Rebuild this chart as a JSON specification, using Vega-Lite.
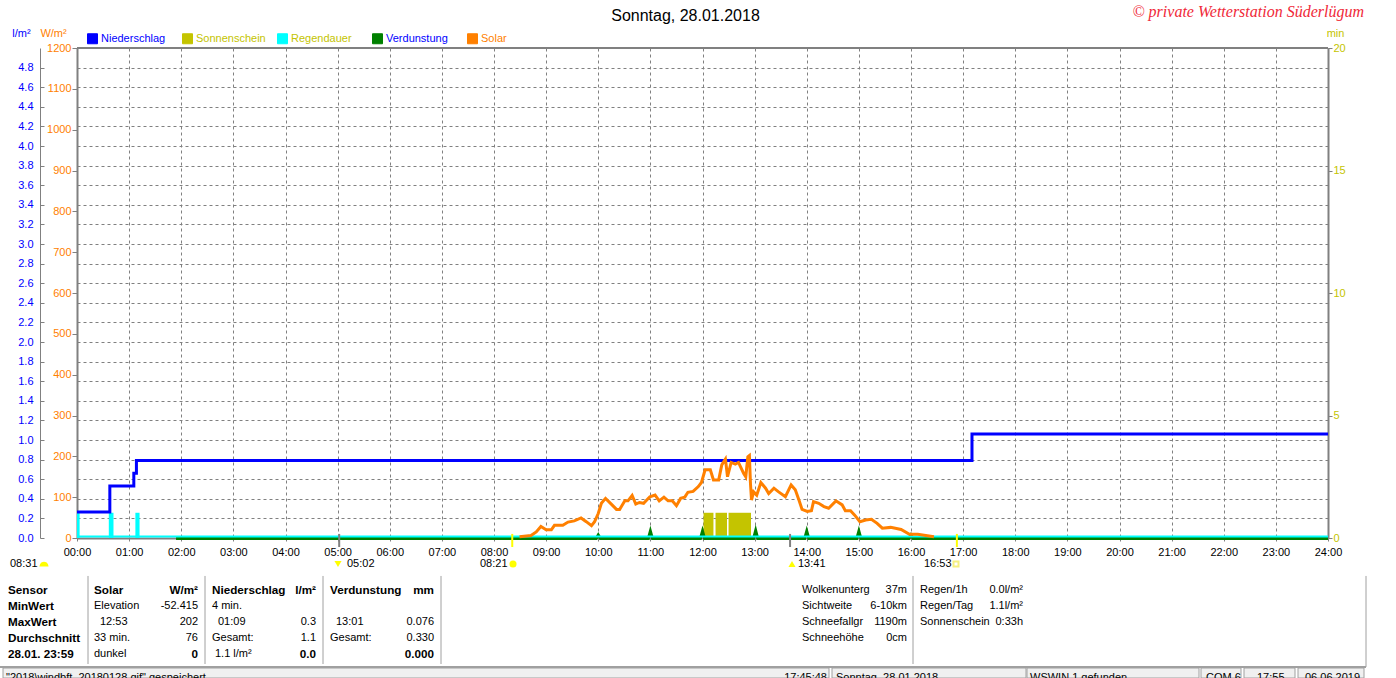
{
"$schema":"https://vega.github.io/schema/vega-lite/v6.json",
"width":1251,"height":490,
"autosize":{"type":"none"},
"padding":{"left":77,"top":48,"right":68,"bottom":140},
"background":"white",
"title":{"text":"Sonntag, 28.01.2018","anchor":"middle","dx":-17,"dy":27,"offset":7,"fontSize":16,"fontWeight":"normal","font":"Liberation Sans","color":"#000000"},
"config":{"view":{"stroke":null},"font":"Liberation Sans","axis":{"labelFont":"Liberation Sans","titleFont":"Liberation Sans","labelFontSize":11,"titleFontSize":11,"titleFontWeight":"normal","labelOverlap":false,"labelFlush":false}},
"datasets":{
"niederschlag":[{"stunde":0,"wert":0.265,"reihe":"Niederschlag"},{"stunde":0.63,"wert":0.53,"reihe":"Niederschlag"},{"stunde":1.09,"wert":0.66,"reihe":"Niederschlag"},{"stunde":1.14,"wert":0.79,"reihe":"Niederschlag"},{"stunde":17.17,"wert":1.06,"reihe":"Niederschlag"},{"stunde":24,"wert":1.06,"reihe":"Niederschlag"}],
"sonne":[{"von":12.02,"bis":12.21,"wert":1.03,"reihe":"Sonnenschein"},{"von":12.25,"bis":12.47,"wert":1.03,"reihe":"Sonnenschein"},{"von":12.5,"bis":12.93,"wert":1.03,"reihe":"Sonnenschein"}],
"regen":[{"von":0,"bis":0.05,"wert":1.03,"reihe":"Regendauer"},{"von":0.61,"bis":0.7,"wert":1.03,"reihe":"Regendauer"},{"von":1.12,"bis":1.2,"wert":1.03,"reihe":"Regendauer"}],
"regenbasis":[{"stunde":0,"wert":0.06,"reihe":"Regendauer"},{"stunde":24,"wert":0.06,"reihe":"Regendauer"}],
"verdunstung":[{"stunde":1.9,"wert":-0.006,"reihe":"Verdunstung"},{"stunde":9.96,"wert":-0.006,"reihe":"Verdunstung"},{"stunde":10,"wert":0.03,"reihe":"Verdunstung"},{"stunde":10.04,"wert":-0.006,"reihe":"Verdunstung"},{"stunde":10.96,"wert":-0.006,"reihe":"Verdunstung"},{"stunde":11,"wert":0.07,"reihe":"Verdunstung"},{"stunde":11.04,"wert":-0.006,"reihe":"Verdunstung"},{"stunde":11.96,"wert":-0.006,"reihe":"Verdunstung"},{"stunde":12,"wert":0.07,"reihe":"Verdunstung"},{"stunde":12.04,"wert":-0.006,"reihe":"Verdunstung"},{"stunde":12.98,"wert":-0.006,"reihe":"Verdunstung"},{"stunde":13.02,"wert":0.076,"reihe":"Verdunstung"},{"stunde":13.06,"wert":-0.006,"reihe":"Verdunstung"},{"stunde":13.96,"wert":-0.006,"reihe":"Verdunstung"},{"stunde":14,"wert":0.07,"reihe":"Verdunstung"},{"stunde":14.04,"wert":-0.006,"reihe":"Verdunstung"},{"stunde":14.96,"wert":-0.006,"reihe":"Verdunstung"},{"stunde":15,"wert":0.07,"reihe":"Verdunstung"},{"stunde":15.04,"wert":-0.006,"reihe":"Verdunstung"},{"stunde":15.96,"wert":-0.006,"reihe":"Verdunstung"},{"stunde":16,"wert":0.03,"reihe":"Verdunstung"},{"stunde":16.04,"wert":-0.006,"reihe":"Verdunstung"},{"stunde":24,"wert":-0.006,"reihe":"Verdunstung"}],
"solar":[{"stunde":8.49,"wert":3,"reihe":"Solar"},{"stunde":8.71,"wert":6,"reihe":"Solar"},{"stunde":8.81,"wert":15,"reihe":"Solar"},{"stunde":8.9,"wert":28,"reihe":"Solar"},{"stunde":9,"wert":20,"reihe":"Solar"},{"stunde":9.1,"wert":20,"reihe":"Solar"},{"stunde":9.16,"wert":31,"reihe":"Solar"},{"stunde":9.32,"wert":31,"reihe":"Solar"},{"stunde":9.42,"wert":39,"reihe":"Solar"},{"stunde":9.54,"wert":42,"reihe":"Solar"},{"stunde":9.67,"wert":49,"reihe":"Solar"},{"stunde":9.77,"wert":40,"reihe":"Solar"},{"stunde":9.87,"wert":30,"reihe":"Solar"},{"stunde":9.93,"wert":40,"reihe":"Solar"},{"stunde":10,"wert":60,"reihe":"Solar"},{"stunde":10.06,"wert":85,"reihe":"Solar"},{"stunde":10.14,"wert":97,"reihe":"Solar"},{"stunde":10.25,"wert":83,"reihe":"Solar"},{"stunde":10.35,"wert":70,"reihe":"Solar"},{"stunde":10.41,"wert":70,"reihe":"Solar"},{"stunde":10.51,"wert":91,"reihe":"Solar"},{"stunde":10.57,"wert":91,"reihe":"Solar"},{"stunde":10.65,"wert":104,"reihe":"Solar"},{"stunde":10.72,"wert":83,"reihe":"Solar"},{"stunde":10.79,"wert":87,"reihe":"Solar"},{"stunde":10.87,"wert":85,"reihe":"Solar"},{"stunde":10.99,"wert":101,"reihe":"Solar"},{"stunde":11.09,"wert":105,"reihe":"Solar"},{"stunde":11.17,"wert":91,"reihe":"Solar"},{"stunde":11.26,"wert":100,"reihe":"Solar"},{"stunde":11.34,"wert":91,"reihe":"Solar"},{"stunde":11.42,"wert":91,"reihe":"Solar"},{"stunde":11.5,"wert":79,"reihe":"Solar"},{"stunde":11.58,"wert":97,"reihe":"Solar"},{"stunde":11.66,"wert":100,"reihe":"Solar"},{"stunde":11.72,"wert":112,"reihe":"Solar"},{"stunde":11.82,"wert":114,"reihe":"Solar"},{"stunde":11.92,"wert":126,"reihe":"Solar"},{"stunde":11.98,"wert":136,"reihe":"Solar"},{"stunde":12.05,"wert":167,"reihe":"Solar"},{"stunde":12.15,"wert":167,"reihe":"Solar"},{"stunde":12.21,"wert":142,"reihe":"Solar"},{"stunde":12.31,"wert":142,"reihe":"Solar"},{"stunde":12.37,"wert":179,"reihe":"Solar"},{"stunde":12.44,"wert":193,"reihe":"Solar"},{"stunde":12.48,"wert":150,"reihe":"Solar"},{"stunde":12.55,"wert":185,"reihe":"Solar"},{"stunde":12.63,"wert":181,"reihe":"Solar"},{"stunde":12.69,"wert":185,"reihe":"Solar"},{"stunde":12.79,"wert":158,"reihe":"Solar"},{"stunde":12.83,"wert":150,"reihe":"Solar"},{"stunde":12.87,"wert":199,"reihe":"Solar"},{"stunde":12.9,"wert":202,"reihe":"Solar"},{"stunde":12.92,"wert":134,"reihe":"Solar"},{"stunde":12.94,"wert":93,"reihe":"Solar"},{"stunde":12.98,"wert":113,"reihe":"Solar"},{"stunde":13.04,"wert":105,"reihe":"Solar"},{"stunde":13.12,"wert":136,"reihe":"Solar"},{"stunde":13.21,"wert":122,"reihe":"Solar"},{"stunde":13.27,"wert":109,"reihe":"Solar"},{"stunde":13.37,"wert":122,"reihe":"Solar"},{"stunde":13.46,"wert":113,"reihe":"Solar"},{"stunde":13.59,"wert":101,"reihe":"Solar"},{"stunde":13.7,"wert":130,"reihe":"Solar"},{"stunde":13.78,"wert":118,"reihe":"Solar"},{"stunde":13.85,"wert":93,"reihe":"Solar"},{"stunde":13.91,"wert":70,"reihe":"Solar"},{"stunde":14.01,"wert":65,"reihe":"Solar"},{"stunde":14.09,"wert":67,"reihe":"Solar"},{"stunde":14.13,"wert":89,"reihe":"Solar"},{"stunde":14.23,"wert":85,"reihe":"Solar"},{"stunde":14.33,"wert":77,"reihe":"Solar"},{"stunde":14.42,"wert":73,"reihe":"Solar"},{"stunde":14.56,"wert":91,"reihe":"Solar"},{"stunde":14.68,"wert":81,"reihe":"Solar"},{"stunde":14.74,"wert":67,"reihe":"Solar"},{"stunde":14.84,"wert":67,"reihe":"Solar"},{"stunde":14.92,"wert":56,"reihe":"Solar"},{"stunde":15.02,"wert":40,"reihe":"Solar"},{"stunde":15.13,"wert":44,"reihe":"Solar"},{"stunde":15.24,"wert":46,"reihe":"Solar"},{"stunde":15.35,"wert":36,"reihe":"Solar"},{"stunde":15.45,"wert":24,"reihe":"Solar"},{"stunde":15.61,"wert":26,"reihe":"Solar"},{"stunde":15.81,"wert":21,"reihe":"Solar"},{"stunde":15.97,"wert":9,"reihe":"Solar"},{"stunde":16.13,"wert":9,"reihe":"Solar"},{"stunde":16.44,"wert":3,"reihe":"Solar"}],
"striche_mond":[{"stunde":5.03,"von":-22,"bis":10},{"stunde":13.68,"von":-22,"bis":10}],
"striche_sonne":[{"stunde":8.35,"von":-22,"bis":10},{"stunde":16.88,"von":-22,"bis":10}],
"text_links":[
{"spalte":8,"zeile":2,"text":"Elevation"},{"spalte":9,"zeile":3,"text":"12:53"},{"spalte":8,"zeile":4,"text":"33 min."},{"spalte":8,"zeile":5,"text":"dunkel"},
{"spalte":12,"zeile":2,"text":"4 min."},{"spalte":14,"zeile":3,"text":"01:09"},{"spalte":12,"zeile":4,"text":"Gesamt:"},{"spalte":13,"zeile":5,"text":"1.1 l/m²"},
{"spalte":18,"zeile":3,"text":"13:01"},{"spalte":17,"zeile":4,"text":"Gesamt:"},
{"spalte":27,"zeile":1,"text":"Wolkenunterg"},{"spalte":27,"zeile":2,"text":"Sichtweite"},{"spalte":27,"zeile":3,"text":"Schneefallgr"},{"spalte":27,"zeile":4,"text":"Schneehöhe"},
{"spalte":34,"zeile":1,"text":"Regen/1h"},{"spalte":34,"zeile":2,"text":"Regen/Tag"},{"spalte":34,"zeile":3,"text":"Sonnenschein"},
{"spalte":5,"zeile":0,"text":"08:31"},{"spalte":20,"zeile":0,"text":"05:02"},{"spalte":23,"zeile":0,"text":"08:21"},{"spalte":26,"zeile":0,"text":"13:41"},{"spalte":35,"zeile":0,"text":"16:53"},
{"spalte":3,"zeile":6.5,"text":"\"2018\\windbft_20180128.gif\"  gespeichert"},{"spalte":31,"zeile":6.5,"text":"Sonntag, 28.01.2018"},{"spalte":40,"zeile":6.5,"text":"WSWIN 1 gefunden"},{"spalte":43,"zeile":6.5,"text":"COM 6"},{"spalte":46,"zeile":6.5,"text":"17:55"},{"spalte":49,"zeile":6.5,"text":"06.06.2019"}],
"text_links_fett":[
{"spalte":4,"zeile":1,"text":"Sensor"},{"spalte":4,"zeile":2,"text":"MinWert"},{"spalte":4,"zeile":3,"text":"MaxWert"},{"spalte":4,"zeile":4,"text":"Durchschnitt"},{"spalte":4,"zeile":5,"text":"28.01. 23:59"},
{"spalte":8,"zeile":1,"text":"Solar"},{"spalte":12,"zeile":1,"text":"Niederschlag"},{"spalte":17,"zeile":1,"text":"Verdunstung"}],
"text_rechts":[
{"spalte":10,"zeile":2,"text":"-52.415"},{"spalte":10,"zeile":3,"text":"202"},{"spalte":10,"zeile":4,"text":"76"},
{"spalte":15,"zeile":3,"text":"0.3"},{"spalte":15,"zeile":4,"text":"1.1"},
{"spalte":21,"zeile":3,"text":"0.076"},{"spalte":21,"zeile":4,"text":"0.330"},
{"spalte":32,"zeile":1,"text":"37m"},{"spalte":32,"zeile":2,"text":"6-10km"},{"spalte":32,"zeile":3,"text":"1190m"},{"spalte":32,"zeile":4,"text":"0cm"},
{"spalte":37,"zeile":1,"text":"0.0l/m²"},{"spalte":37,"zeile":2,"text":"1.1l/m²"},{"spalte":37,"zeile":3,"text":"0:33h"},
{"spalte":28,"zeile":6.5,"text":"17:45:48"}],
"text_rechts_fett":[
{"spalte":10,"zeile":1,"text":"W/m²"},{"spalte":10,"zeile":5,"text":"0"},
{"spalte":15,"zeile":1,"text":"l/m²"},{"spalte":15,"zeile":5,"text":"0.0"},
{"spalte":21,"zeile":1,"text":"mm"},{"spalte":21,"zeile":5,"text":"0.000"}],
"trenner":[{"spalte":7,"von":0.46,"bis":5.625},{"spalte":11,"von":0.46,"bis":5.625},{"spalte":16,"von":0.46,"bis":5.625},{"spalte":22,"von":0.46,"bis":5.625},{"spalte":33,"von":0.46,"bis":5.625},{"spalte":51,"von":0.46,"bis":5.81}],
"statuslinie":[{"von":1,"bis":51,"zeile":5.81}],
"statusfelder":[{"von":2,"bis":29,"oben":5.875,"unten":6.5},{"von":30,"bis":38,"oben":5.875,"unten":6.5},{"von":39,"bis":41,"oben":5.875,"unten":6.5},{"von":42,"bis":44,"oben":5.875,"unten":6.5},{"von":45,"bis":47,"oben":5.875,"unten":6.5},{"von":48,"bis":50,"oben":5.875,"unten":6.5}],
"symbole":[{"spalte":6,"zeile":0,"art":"halb"},{"spalte":19,"zeile":0,"art":"ab"},{"spalte":24,"zeile":0,"art":"sonne"},{"spalte":25,"zeile":0,"art":"auf"}],
"hohl":[{"spalte":36,"zeile":0}],
"vermerk":[{"spalte":50,"zeile":-1,"text":"© private Wetterstation Süderlügum"}]
},
"layer":[
{"layer":[
{"data":{"name":"sonne"},"mark":{"type":"rect"},
 "encoding":{
  "x":{"field":"von","type":"quantitative","title":null,"scale":{"domain":[0,24],"nice":false,"zero":false},
   "axis":{"values":[0,1,2,3,4,5,6,7,8,9,10,11,12,13,14,15,16,17,18,19,20,21,22,23,24],"labelExpr":"(datum.value<10?'0':'')+datum.value+':00'","labelColor":"#000000","labelPadding":5,"tickSize":3,"tickColor":"#808080","domainColor":"#808080","domainWidth":2,"grid":true,"gridColor":"#808080","gridDash":[3,3],"gridOpacity":1,"gridWidth":1}},
  "x2":{"field":"bis"},
  "y":{"field":"wert","type":"quantitative","title":"min","scale":{"domain":[0,20],"nice":false},
   "axis":{"orient":"right","values":[0,5,10,15,20],"grid":false,"labelColor":"#c4c400","labelPadding":1,"tickSize":4,"tickColor":"#808080","domainColor":"#808080","domainWidth":2,"titleColor":"#c4c400","titleAngle":0,"titleAlign":"center","titleBaseline":"middle","titleX":7,"titleY":-15}},
  "y2":{"datum":0},
  "color":{"field":"reihe","type":"nominal","scale":{"domain":["Niederschlag","Sonnenschein","Regendauer","Verdunstung","Solar"],"range":["#0000ff","#c4c400","#00ffff","#008000","#ff8000"]},
   "legend":{"title":null,"orient":"none","legendX":10,"legendY":-15,"direction":"horizontal","columns":5,"gridAlign":"all","columnPadding":9,"padding":0,"symbolType":"square","symbolSize":100,"symbolStrokeWidth":1,"symbolStrokeColor":"#000000","labelFont":"Liberation Sans","labelFontSize":11,"labelOffset":3,"labelLimit":200,
    "labelColor":{"expr":"datum.label=='Niederschlag'||datum.label=='Verdunstung'?'#0000ff':datum.label=='Solar'?'#ff8000':'#c4c400'"}}}
 }},
{"data":{"name":"verdunstung"},"mark":{"type":"line","strokeWidth":3,"interpolate":"linear","clip":false},
 "encoding":{
  "x":{"field":"stunde","type":"quantitative"},
  "y":{"field":"wert","type":"quantitative","title":"l/m²","scale":{"domain":[0,5],"nice":false,"zero":false},
   "axis":{"orient":"left","offset":37,"values":[0,0.2,0.4,0.6,0.8,1,1.2,1.4,1.6,1.8,2,2.2,2.4,2.6,2.8,3,3.2,3.4,3.6,3.8,4,4.2,4.4,4.6,4.8],"format":".1f","grid":true,"gridColor":"#808080","gridDash":[3,3],"gridOpacity":1,"gridWidth":1,"labelColor":"#0000ff","labelPadding":11,"tickSize":-4,"tickColor":"#808080","domainColor":"#808080","domainWidth":1,"titleColor":"#0000ff","titleAngle":0,"titleAlign":"center","titleBaseline":"middle","titleX":-19,"titleY":-15}},
  "color":{"field":"reihe","type":"nominal","legend":null}
 }},
{"data":{"name":"regen"},"mark":{"type":"rect"},
 "encoding":{
  "x":{"field":"von","type":"quantitative"},"x2":{"field":"bis"},
  "y":{"field":"wert","type":"quantitative","scale":{"domain":[0,20],"nice":false},"axis":null},"y2":{"datum":0},
  "color":{"field":"reihe","type":"nominal","legend":null}
 }},
{"data":{"name":"regenbasis"},"mark":{"type":"line","strokeWidth":2},
 "encoding":{
  "x":{"field":"stunde","type":"quantitative"},
  "y":{"field":"wert","type":"quantitative","scale":{"domain":[0,20],"nice":false},"axis":null},
  "color":{"field":"reihe","type":"nominal","legend":null}
 }},
{"data":{"name":"niederschlag"},"mark":{"type":"line","strokeWidth":3,"interpolate":"step-after"},
 "encoding":{
  "x":{"field":"stunde","type":"quantitative"},
  "y":{"field":"wert","type":"quantitative","scale":{"domain":[0,5],"nice":false},"axis":null},
  "color":{"field":"reihe","type":"nominal","legend":null}
 }},
{"data":{"name":"solar"},"mark":{"type":"line","strokeWidth":3,"interpolate":"linear"},
 "encoding":{
  "x":{"field":"stunde","type":"quantitative"},
  "y":{"field":"wert","type":"quantitative","title":"W/m²","scale":{"domain":[0,1200],"nice":false},
   "axis":{"orient":"left","values":[0,100,200,300,400,500,600,700,800,900,1000,1100,1200],"format":"d","grid":false,"labelColor":"#ff8000","labelPadding":1,"tickSize":5,"tickColor":"#808080","domainColor":"#808080","domainWidth":2,"titleColor":"#ff8000","titleAngle":0,"titleAlign":"center","titleBaseline":"middle","titleX":-24,"titleY":-15}},
  "color":{"field":"reihe","type":"nominal","legend":null}
 }},
{"data":{"name":"striche_mond"},"mark":{"type":"rule","color":"#808080","strokeWidth":2},
 "encoding":{
  "x":{"field":"stunde","type":"quantitative"},
  "y":{"field":"von","type":"quantitative","scale":{"domain":[0,1200],"nice":false},"axis":null},"y2":{"field":"bis"}
 }},
{"data":{"name":"striche_sonne"},"mark":{"type":"rule","color":"#ffff00","strokeWidth":2},
 "encoding":{
  "x":{"field":"stunde","type":"quantitative"},
  "y":{"field":"von","type":"quantitative","scale":{"domain":[0,1200],"nice":false},"axis":null},"y2":{"field":"bis"}
 }},
{"data":{"values":[{"oben":1200}]},"mark":{"type":"rule","color":"#808080","strokeWidth":2},
 "encoding":{
  "y":{"field":"oben","type":"quantitative","scale":{"domain":[0,1200],"nice":false},"axis":null}
 }}
],"resolve":{"scale":{"y":"independent"},"axis":{"y":"independent"}}},
{"encoding":{
  "x":{"field":"spalte","type":"quantitative","axis":null,"scale":{"nice":false,"zero":false,"domain":[1,2,3,4,5,6,7,8,9,10,11,12,13,14,15,16,17,18,19,20,21,22,23,24,25,26,27,28,29,30,31,32,33,34,35,36,37,38,39,40,41,42,43,44,45,46,47,48,49,50,51],"range":[-77,-74,-71,-69,-67,-33,11,17,23,121,128,135,138,141,239,246,253,259,261,270,357,364,403,436,715,721,725,750,752,755,759,830,836,843,847,879,946,949,950,953,1122,1124,1129,1164,1167,1180,1218,1221,1228,1287,1289]}},
  "y":{"field":"zeile","type":"quantitative","axis":null,"scale":{"nice":false,"zero":false,"domain":[-1,0,1,6.5],"range":[-36,516,542,630]}}
 },
 "layer":[
 {"data":{"name":"statusfelder"},"mark":{"type":"rect","fill":"#f0f0f0","stroke":"#a0a0a0","strokeWidth":1},
  "encoding":{"x":{"field":"von","type":"quantitative"},"x2":{"field":"bis"},"y":{"field":"oben","type":"quantitative"},"y2":{"field":"unten"}}},
 {"data":{"name":"trenner"},"mark":{"type":"rule","color":"#a0a0a0","strokeWidth":1},
  "encoding":{"y":{"field":"von","type":"quantitative"},"y2":{"field":"bis"}}},
 {"data":{"name":"statuslinie"},"mark":{"type":"rule","color":"#a0a0a0","strokeWidth":2},
  "encoding":{"x":{"field":"von","type":"quantitative"},"x2":{"field":"bis"}}},
 {"data":{"name":"text_links"},"mark":{"type":"text","align":"left","baseline":"middle","fontSize":11,"font":"Liberation Sans","color":"#000000"},"encoding":{"text":{"field":"text"}}},
 {"data":{"name":"text_links_fett"},"mark":{"type":"text","align":"left","baseline":"middle","fontSize":11.7,"fontWeight":"bold","font":"Liberation Sans","color":"#000000"},"encoding":{"text":{"field":"text"}}},
 {"data":{"name":"text_rechts"},"mark":{"type":"text","align":"right","baseline":"middle","fontSize":11,"font":"Liberation Sans","color":"#000000"},"encoding":{"text":{"field":"text"}}},
 {"data":{"name":"text_rechts_fett"},"mark":{"type":"text","align":"right","baseline":"middle","fontSize":11.7,"fontWeight":"bold","font":"Liberation Sans","color":"#000000"},"encoding":{"text":{"field":"text"}}},
 {"data":{"name":"symbole"},"mark":{"type":"point","filled":true,"size":50,"opacity":1,"color":"#ffff00"},
  "encoding":{"shape":{"field":"art","type":"nominal","legend":null,"scale":{"domain":["halb","ab","sonne","auf"],"range":["M-1.3,0.7 L-1.1,0 L-0.65,-0.5 L0,-0.65 L0.65,-0.5 L1.1,0 L1.3,0.7 Z","triangle-down","circle","triangle-up"]}}}},
 {"data":{"name":"hohl"},"mark":{"type":"point","shape":"square","filled":false,"size":25,"color":"#f5f080","opacity":1}},
 {"data":{"name":"vermerk"},"mark":{"type":"text","align":"right","baseline":"middle","fontSize":16,"fontStyle":"italic","font":"Liberation Serif","color":"#f02838"},
  "encoding":{"text":{"field":"text"}}}
 ]}
],
"resolve":{"scale":{"x":"independent","y":"independent"},"axis":{"x":"independent","y":"independent"}}
}
